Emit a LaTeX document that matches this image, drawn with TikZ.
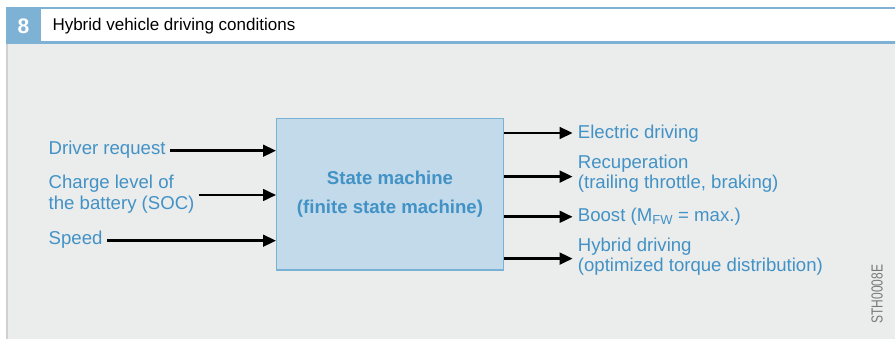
\documentclass[tikz,border=0pt]{standalone}
\usepackage{fontspec}
\setmainfont{Liberation Sans}
\usetikzlibrary{arrows.meta}
\definecolor{hdrblue}{RGB}{125,178,213}
\definecolor{txtblue}{RGB}{66,146,198}
\definecolor{bggray}{RGB}{235,236,236}
\definecolor{edgegray}{RGB}{206,208,209}
\definecolor{boxfill}{RGB}{194,218,234}
\definecolor{boxedge}{RGB}{120,178,214}
\definecolor{codegray}{RGB}{120,122,124}
\begin{document}
\begin{tikzpicture}[x=1pt,y=-1pt,
  lab/.style={anchor=west,inner sep=0pt,text=txtblue,align=left,
    font=\fontsize{18.6}{20.6}\selectfont},
  arr/.style={line width=2.8pt,-{Triangle[length=13pt,width=11.5pt]}},
  smbox/.style={draw=boxedge,line width=1.2pt,fill=boxfill,
    minimum width=226.6pt,minimum height=151.7pt,inner sep=0pt,
    text=txtblue,align=center,font=\fontsize{18.6}{28.4}\selectfont\bfseries}]
\useasboundingbox (0,0) rectangle (895,339);
% background
\fill[white] (0,0) rectangle (895,339);
\fill[bggray] (6,43) rectangle (895,339);
\fill[edgegray] (6,43) rectangle (8,339);
% header
\fill[hdrblue] (6,7.5) rectangle (895,9.5);
\fill[hdrblue] (6,41.5) rectangle (895,44);
\fill[hdrblue] (6,8) rectangle (41,42);
\node[text=white,font=\fontsize{21}{21}\selectfont\bfseries,inner sep=0pt] (num) at (23.5,26.5) {8};
\node[anchor=west,inner sep=0pt,font=\fontsize{17}{17}\selectfont] (title) at (52.3,26.5) {Hybrid vehicle driving conditions};
% state machine
\node[smbox] (sm) at (390,194.2) {State machine\\(finite state machine)};
% inputs
\node[lab] (in1) at (48.5,150) {Driver request};
\node[lab] (in2) at (48.5,194) {Charge level of\\the battery (SOC)};
\node[lab] (in3) at (48.5,240) {Speed};
\draw[arr] ([xshift=4.5pt,yshift=-0.7pt]in1.east) -- ([yshift=-0.7pt]in1.east -| sm.west);
\draw[arr] ([xshift=4pt,yshift=-1pt]in2.east) -- ([yshift=-1pt]in2.east -| sm.west);
\draw[arr] ([xshift=4.5pt,yshift=-0.7pt]in3.east) -- ([yshift=-0.7pt]in3.east -| sm.west);
% outputs
\node[lab] (out1) at (577.7,133.5) {Electric driving};
\node[lab] (out2) at (577.7,173.8) {Recuperation\\(trailing throttle, braking)};
\node[lab] (out3) at (577.7,216.8) {Boost (M\textsubscript{FW} = max.)};
\node[lab] (out4) at (577.7,256.8) {Hybrid driving\\(optimized torque distribution)};
\coordinate (t1) at ([xshift=-5pt,yshift=0.5pt]out1.west);
\coordinate (t2) at ([xshift=-5pt,yshift=-2.8pt]out2.west);
\coordinate (t3) at ([xshift=-5pt,yshift=0pt]out3.west);
\coordinate (t4) at ([xshift=-5pt,yshift=-1.8pt]out4.west);
\draw[arr] (t1 -| sm.east) -- (t1);
\draw[arr] (t2 -| sm.east) -- (t2);
\draw[arr] (t3 -| sm.east) -- (t3);
\draw[arr] (t4 -| sm.east) -- (t4);
% code
\node[rotate=90,inner sep=0pt,text=codegray,font=\fontsize{16}{16}\selectfont] (code) at (877,294) {\scalebox{0.75}[1]{STH0008E}};
\end{tikzpicture}
\end{document}
